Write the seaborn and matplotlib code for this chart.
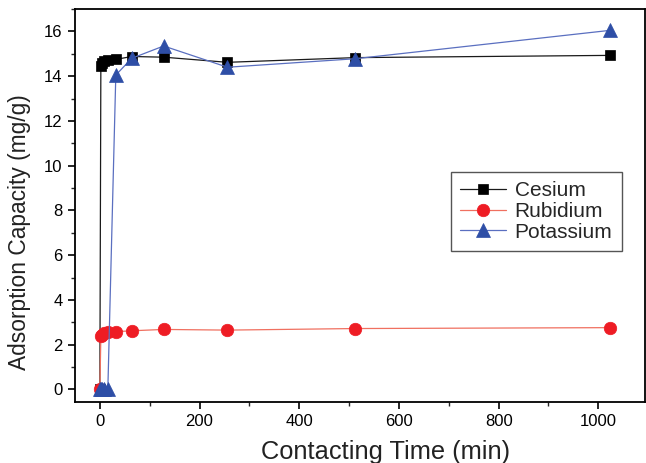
import matplotlib
matplotlib.use("Agg")
import matplotlib.pyplot as plt
from matplotlib.ticker import MultipleLocator
import seaborn as sns
import pandas as pd

time_min = [0, 2, 4, 8, 16, 32, 64, 128, 256, 512, 1024]
cesium = [0, 14.45, 14.6, 14.7, 14.72, 14.75, 14.88, 14.85, 14.62, 14.83, 14.93]
rubidium = [0, 2.37, 2.45, 2.52, 2.56, 2.58, 2.62, 2.68, 2.65, 2.72, 2.76]
potassium = [0, 0, 0, 0, 0, 14.05, 14.8, 15.35, 14.4, 14.78, 16.05]
series_names = ["Cesium", "Rubidium", "Potassium"]

sns.set_theme(style="ticks")
plt.rcParams["font.family"] = ["Liberation Sans", "DejaVu Sans"]

fig = plt.figure(figsize=(6.46, 4.63), dpi=100)
ax = fig.add_axes([0.116, 0.1324, 0.882, 0.848])

styles = {
    "Cesium": dict(line="#1a1a1a", face="#000000", marker="s", ms=7.5),
    "Rubidium": dict(line="#f07060", face="#ee1c24", marker="o", ms=9),
    "Potassium": dict(line="#5a6fc0", face="#2e4ea6", marker="^", ms=9.5),
}
values = {"Cesium": cesium, "Rubidium": rubidium, "Potassium": potassium}

for name in series_names:
    st = styles[name]
    df = pd.DataFrame({"t": time_min, "q": values[name]})
    sns.lineplot(data=df, x="t", y="q", ax=ax, color=st["line"], linewidth=0.9,
                 marker=st["marker"], markersize=st["ms"],
                 markerfacecolor=st["face"], markeredgecolor=st["face"],
                 markeredgewidth=0.5, label=name, estimator=None, sort=False)

ax.set_xlim(-50, 1093)
ax.set_ylim(-0.55, 17.0)
ax.xaxis.set_major_locator(MultipleLocator(200))
ax.xaxis.set_minor_locator(MultipleLocator(100))
ax.yaxis.set_major_locator(MultipleLocator(2))
ax.yaxis.set_minor_locator(MultipleLocator(1))
ax.tick_params(axis="both", which="major", direction="out", length=5, width=1.2,
               labelsize=12, colors="#000000", top=False, right=False, pad=4)
ax.tick_params(axis="both", which="minor", direction="out", length=3, width=1.0,
               top=False, right=False)
for sp in ax.spines.values():
    sp.set_visible(True)
    sp.set_color("#000000")
    sp.set_linewidth(1.3)

ax.set_xlabel("Contacting Time (min)", fontsize=18.3, color="#222222")
ax.set_ylabel("Adsorption Capacity (mg/g)", fontsize=16.4, color="#222222")
ax.xaxis.set_label_coords(0.546, -0.098)
ax.yaxis.set_label_coords(-0.077, 0.432)

leg = ax.legend(loc="upper left", bbox_to_anchor=(0.66, 0.585), borderaxespad=0,
                fontsize=15, frameon=True, fancybox=False, framealpha=1,
                edgecolor="#555555", handlelength=2.2, handletextpad=0.4,
                labelspacing=0.08, borderpad=0.45)
leg.get_frame().set_linewidth(1.0)

fig.savefig("out.png", dpi=100)
